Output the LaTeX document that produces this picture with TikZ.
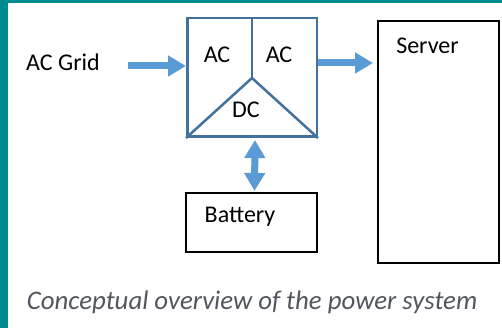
\documentclass[tikz,border=0pt]{standalone}
\usepackage{xcolor}
\usepackage{fontspec}
\setmainfont{Carlito}
\usepackage{tikz}
\usetikzlibrary{arrows.meta,calc,positioning}
\definecolor{frameteal}{RGB}{0,139,147}
\definecolor{convblue}{RGB}{65,113,156}
\definecolor{flowblue}{RGB}{91,155,213}
\definecolor{captiongray}{RGB}{82,86,94}

\begin{document}
\begin{tikzpicture}[
    x=1pt, y=-1pt,
    font=\fontsize{24}{28}\selectfont,
    txt/.style={inner sep=0pt},
    converter/.style={draw=convblue, line width=2.5pt, minimum width=129.5pt, minimum height=118.5pt, inner sep=0pt},
    unit/.style={draw=black, line width=2pt, inner sep=0pt},
    flow/.style={-{Triangle[length=18pt, width=20pt]}, line width=7pt, draw=flowblue},
    dflow/.style={{Triangle[length=18pt, width=20pt]}-{Triangle[length=18pt, width=20pt]}, line width=7pt, draw=flowblue}
]
% frame and page
\fill[white] (0,0) rectangle (502,328);
\fill[frameteal] (0,0) rectangle (8,328);
\fill[frameteal] (0,0) rectangle (502,3);
\useasboundingbox (0,0) rectangle (502,328);

\node[converter] (conv) at (252,77.5) {};
\coordinate (hub) at (252,78);
\draw[convblue, line width=2.5pt] (conv.north) -- (hub);
\draw[convblue, line width=2.5pt, line join=round] (conv.south west) -- (hub) -- (conv.south east);
\node[txt] (acin) at (217,55) {AC};
\node[txt] (acout) at (279,55) {AC};
\node[txt] (dc) at (246,110) {DC};

\node[txt] (grid) at (63,62) {AC Grid};
\node[unit, minimum width=131pt, minimum height=59pt] (battery) at (251.5,222.5) {};
\node[txt] (batterytext) at (240,217) {Battery};
\node[unit, minimum width=121pt, minimum height=242pt] (server) at (438.5,142) {};
\node[txt] (servertext) at (427.5,46) {Server};

\node[txt, font=\fontsize{26.8}{31}\selectfont\itshape, text=captiongray] (caption) at (252,302) {Conceptual overview of the power system};

\coordinate (gridtail) at (128,66);
\coordinate (srvtip) at (373,63);
\draw[flow] (gridtail) -- (gridtail -| conv.west);
\draw[flow] (srvtip -| conv.east) -- (srvtip);
\draw[dflow] ([xshift=3pt,yshift=-2pt]conv.south) -- ([xshift=3pt,yshift=1pt]battery.north);
\end{tikzpicture}
\end{document}
